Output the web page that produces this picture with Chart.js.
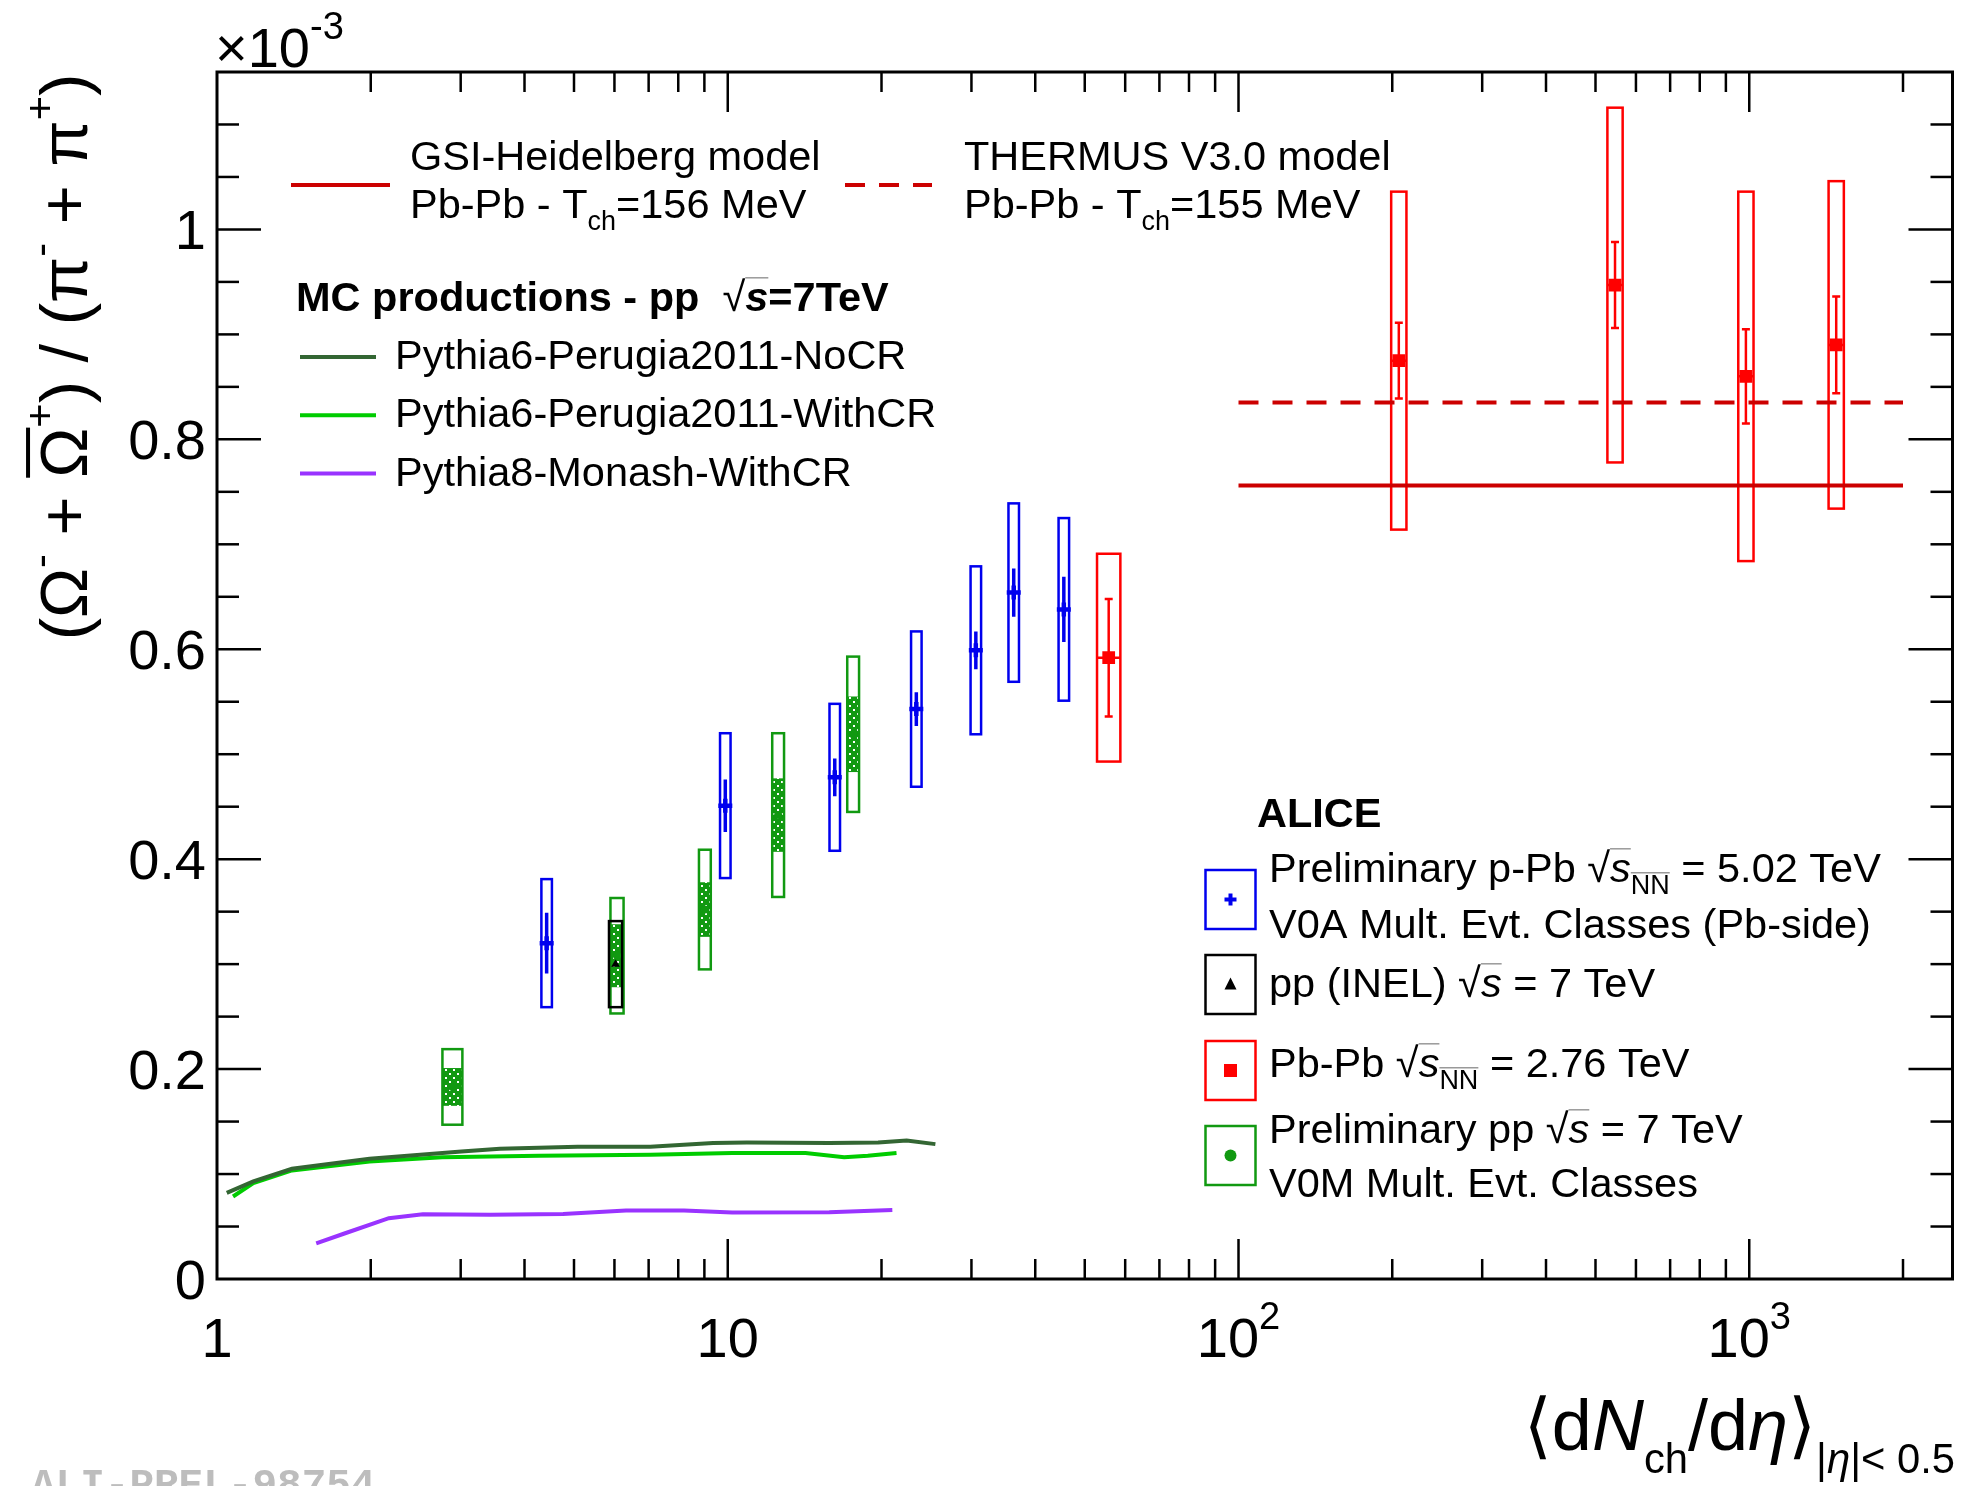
<!DOCTYPE html>
<html>
<head>
<meta charset="utf-8">
<title>Omega / pi vs dNch/deta</title>
<script src="https://cdn.jsdelivr.net/npm/chart.js@4.4.1/dist/chart.umd.min.js"></script>
<style>
  html, body { margin: 0; padding: 0; background: #fff; }
  canvas { display: block; }
</style>
</head>
<body>
<canvas id="omegaChart" width="1964" height="1486"></canvas>
<script>
// values are (Omega + anti-Omega)/(pi- + pi+) in units of 1e-3

// p-Pb 5.02 TeV, V0A classes
const pPbX    = [4.42, 9.89, 16.2, 23.4, 30.6, 36.3, 45.5];
const pPbY    = [0.320, 0.451, 0.478, 0.543, 0.599, 0.654, 0.638];
const pPbStat = [0.029, 0.025, 0.018, 0.016, 0.018, 0.023, 0.031];
const pPbSys  = [0.061, 0.069, 0.070, 0.074, 0.080, 0.085, 0.087];
const pPbXErr = [0.024, 0.024, 0.024, 0.024, 0.024, 0.024, 0.024]; // relative dN/deta unc.

// Pb-Pb 2.76 TeV
const pbPbX    = [55.7, 206, 546, 985, 1480];
const pbPbY    = [0.592, 0.875, 0.947, 0.860, 0.890];
const pbPbStat = [0.056, 0.036, 0.041, 0.045, 0.046];
const pbPbSys  = [0.099, 0.161, 0.169, 0.176, 0.156];
const pbPbXErr = [0.054, 0.035, 0.035, 0.035, 0.035];

// pp 7 TeV, V0M classes (preliminary)
const ppX     = [2.89, 6.07, 9.02, 12.55, 17.6];
const ppY     = [0.183, 0.308, 0.352, 0.442, 0.519];
const ppUncor = [0.018, 0.030, 0.026, 0.035, 0.036];
const ppSys   = [0.036, 0.055, 0.057, 0.078, 0.074];
const ppXErr  = [0.046, 0.030, 0.027, 0.027, 0.027];

// pp INEL 7 TeV
const inelX    = [6.03];
const inelY    = [0.300];
const inelSys  = [0.041];
const inelXErr = [0.030];

// MC, pp 7 TeV
const noCrX = [1.045, 1.178, 1.402, 1.989, 3.01, 3.58, 5.08, 7.05, 9.36, 10.9, 15.8, 19.7, 22.4, 25.5];
const noCrY = [0.082, 0.093, 0.105, 0.1145, 0.1215, 0.124, 0.126, 0.126, 0.1295, 0.130, 0.1295, 0.130, 0.132, 0.1285];
const withCrX = [1.075, 1.178, 1.402, 1.989, 2.76, 4.27, 7.05, 10.2, 14.2, 16.9, 18.8, 21.4];
const withCrY = [0.0786, 0.0913, 0.1034, 0.112, 0.1161, 0.1174, 0.1183, 0.120, 0.120, 0.1161, 0.1174, 0.120];
const monashX = [1.564, 1.782, 2.17, 2.53, 3.43, 4.76, 6.32, 8.21, 10.2, 15.8, 21.0];
const monashY = [0.034, 0.0436, 0.0579, 0.0617, 0.0611, 0.062, 0.0652, 0.0652, 0.0633, 0.0636, 0.0658];

// thermal models (Pb-Pb)
const modelX   = [100, 2000];
const gsiY     = 0.756;
const thermusY = 0.835;

// axes
const xTicks      = [1, 10, 100, 1000];
const xTickLabels = [[{t: '1'}], [{t: '10'}], [{t: '10'}, {t: '2', sup: 1}], [{t: '10'}, {t: '3', sup: 1}]];
const yTicks      = [0, 0.2, 0.4, 0.6, 0.8, 1.0];
const yTickLabels = ['0', '0.2', '0.4', '0.6', '0.8', '1'];

const FONT = "'Liberation Sans', Arial, Helvetica, 'DejaVu Sans', sans-serif";
const BLUE = '#0000ee', RED = '#ff0000', GREEN = '#119911', DKRED = '#cc0000';
const LEG = 41.5;

const pts = (xs, ys) => xs.map((x, i) => ({ x, y: ys[i] }));

// rich text: segments {t, sub, sup, it, b, bar}
function rich(ctx, segs, x, y, size, align, opt) {
  opt = opt || {};
  const subScale = opt.subScale || 0.65;
  const parts = segs.map(s => {
    const sz = (s.sub || s.sup) ? size * subScale : size;
    const font = (s.it ? 'italic ' : '') + (s.b ? 'bold ' : '') + sz + 'px ' + FONT;
    ctx.font = font;
    const dy = s.sub ? size * (opt.subDy || 0.3) : s.sup ? -size * (opt.supDy || 0.45) : 0;
    return { s, font, sz, dy, w: ctx.measureText(s.t).width };
  });
  const total = parts.reduce((acc, p) => acc + p.w, 0);
  let cx = align === 'right' ? x - total : align === 'center' ? x - total / 2 : x;
  ctx.textAlign = 'left';
  ctx.textBaseline = 'alphabetic';
  for (const p of parts) {
    ctx.font = p.font;
    ctx.fillText(p.s.t, cx, y + p.dy);
    if (p.s.bar) {
      ctx.save();
      ctx.strokeStyle = opt.barColor || '#999';
      ctx.lineWidth = opt.barWidth || 1.5;
      const by = y + p.dy - p.sz * (opt.barH || 0.8);
      ctx.beginPath(); ctx.moveTo(cx, by); ctx.lineTo(cx + p.w, by); ctx.stroke();
      ctx.restore();
    }
    cx += p.w;
  }
  return total;
}

function hatchPattern(ctx, color) {
  const c = document.createElement('canvas');
  c.width = 8; c.height = 8;
  const g = c.getContext('2d');
  g.fillStyle = color; g.fillRect(0, 0, 8, 8);
  g.fillStyle = '#ffffff';
  g.fillRect(1, 1, 2, 2); g.fillRect(5, 5, 2, 2);
  return ctx.createPattern(c, 'repeat');
}

// systematic boxes and stat bars, drawn under the markers
const errorBoxes = {
  id: 'errorBoxes',
  beforeDatasetsDraw(chart) {
    const { ctx, chartArea: a, scales: { x: xs, y: ys } } = chart;
    ctx.save();
    ctx.beginPath(); ctx.rect(a.left, a.top, a.right - a.left, a.bottom - a.top); ctx.clip();
    chart.data.datasets.forEach(ds => {
      const e = ds.errs;
      if (!e) return;
      ds.data.forEach((p, i) => {
        const x0 = xs.getPixelForValue(p.x / (1 + e.xRel[i]));
        const x1 = xs.getPixelForValue(p.x * (1 + e.xRel[i]));
        const xc = xs.getPixelForValue(p.x);
        const yc = ys.getPixelForValue(p.y);
        if (e.unc) {
          const yt = ys.getPixelForValue(p.y + e.unc[i]), yb = ys.getPixelForValue(p.y - e.unc[i]);
          ctx.fillStyle = hatchPattern(ctx, e.color);
          ctx.fillRect(x0, yt, x1 - x0, yb - yt);
        }
        if (e.sys) {
          const yt = ys.getPixelForValue(p.y + e.sys[i]), yb = ys.getPixelForValue(p.y - e.sys[i]);
          ctx.strokeStyle = e.color; ctx.lineWidth = 2.5;
          ctx.strokeRect(x0, yt, x1 - x0, yb - yt);
        }
        if (e.hbar) {
          ctx.strokeStyle = e.color; ctx.lineWidth = 2.5;
          ctx.beginPath(); ctx.moveTo(x0, yc); ctx.lineTo(x1, yc); ctx.stroke();
        }
        if (e.stat) {
          const yt = ys.getPixelForValue(p.y + e.stat[i]), yb = ys.getPixelForValue(p.y - e.stat[i]);
          ctx.strokeStyle = e.color; ctx.lineWidth = e.statWidth || 2.5;
          ctx.beginPath(); ctx.moveTo(xc, yt); ctx.lineTo(xc, yb);
          if (e.caps) {
            ctx.moveTo(xc - 4, yt); ctx.lineTo(xc + 4, yt);
            ctx.moveTo(xc - 4, yb); ctx.lineTo(xc + 4, yb);
          }
          ctx.stroke();
        }
      });
    });
    ctx.restore();
  }
};

// ROOT-like frame, ticks, labels and legends
const rootFrame = {
  id: 'rootFrame',
  afterDraw(chart) {
    const { ctx, chartArea: a, scales: { x: xs, y: ys } } = chart;
    const line = (x0, y0, x1, y1) => { ctx.beginPath(); ctx.moveTo(x0, y0); ctx.lineTo(x1, y1); ctx.stroke(); };
    ctx.save();
    ctx.strokeStyle = '#000';
    ctx.fillStyle = '#000';
    ctx.lineWidth = 2.5;

    // x ticks (log)
    for (let d = 1; d <= 1000; d *= 10) {
      for (let m = 1; m <= 9; m++) {
        const v = d * m;
        if (v <= xs.min || v >= xs.max) continue;
        const px = xs.getPixelForValue(v);
        const len = m === 1 ? 40 : 20;
        line(px, a.bottom, px, a.bottom - len);
        line(px, a.top, px, a.top + len);
      }
    }
    // y ticks
    for (let k = 1; k * 0.05 < ys.max - 1e-6; k++) {
      const py = ys.getPixelForValue(k * 0.05);
      const len = k % 4 === 0 ? 44 : 22;
      line(a.left, py, a.left + len, py);
      line(a.right, py, a.right - len, py);
    }
    ctx.lineWidth = 3;
    ctx.strokeRect(a.left, a.top, a.right - a.left, a.bottom - a.top);

    // tick labels
    ctx.font = '56px ' + FONT;
    ctx.textAlign = 'right';
    ctx.textBaseline = 'alphabetic';
    yTicks.forEach((v, i) => {
      ctx.fillText(yTickLabels[i], 206, ys.getPixelForValue(v) + 20);
    });
    xTicks.forEach((v, i) => {
      rich(ctx, xTickLabels[i], xs.getPixelForValue(v), 1357, 56, 'center', { subScale: 0.68, supDy: 0.5 });
    });

    // exponent
    rich(ctx, [{ t: '×10' }, { t: '-3', sup: 1 }], 215, 67, 56, 'left', { subScale: 0.68, supDy: 0.5 });

    // y title
    ctx.save();
    ctx.translate(87, 357);
    ctx.rotate(-Math.PI / 2);
    rich(ctx, [
      { t: '(Ω' }, { t: '-', sup: 1 }, { t: ' + ' }, { t: 'Ω', bar: 1 }, { t: '+', sup: 1 },
      { t: ') / (π' }, { t: '-', sup: 1 }, { t: ' + π' }, { t: '+', sup: 1 }, { t: ')' }
    ], 0, 0, 67, 'center', { subScale: 0.62, supDy: 0.5, barColor: '#000', barWidth: 4, barH: 0.88 });
    ctx.restore();

    // x title
    rich(ctx, [
      { t: '⟨d' }, { t: 'N', it: 1 }, { t: 'ch', sub: 1 }, { t: '/d' }, { t: 'η', it: 1 }, { t: '⟩' },
      { t: '|', sub: 1 }, { t: 'η', sub: 1, it: 1 }, { t: '|< 0.5', sub: 1 }
    ], 1955, 1450, 72, 'right', { subScale: 0.58, subDy: 0.32 });

    // watermark
    ctx.font = 'bold 41px "Liberation Mono", "DejaVu Sans Mono", monospace';
    ctx.fillStyle = '#bdbdbd';
    ctx.textAlign = 'left';
    ctx.fillText('ALI-PREL-98754', 31, 1497);
    ctx.fillStyle = '#000';

    // model legend
    ctx.lineWidth = 4;
    ctx.strokeStyle = DKRED;
    line(291, 185, 390, 185);
    ctx.setLineDash([20, 14]);
    line(845, 185, 932, 185);
    ctx.setLineDash([]);
    rich(ctx, [{ t: 'GSI-Heidelberg model' }], 410, 170, LEG, 'left');
    rich(ctx, [{ t: 'Pb-Pb - T' }, { t: 'ch', sub: 1 }, { t: '=156 MeV' }], 410, 218, LEG, 'left');
    rich(ctx, [{ t: 'THERMUS V3.0 model' }], 964, 170, LEG, 'left');
    rich(ctx, [{ t: 'Pb-Pb - T' }, { t: 'ch', sub: 1 }, { t: '=155 MeV' }], 964, 218, LEG, 'left');

    // MC legend
    rich(ctx, [{ t: 'MC productions - pp  ', b: 1 }, { t: '√' }, { t: 's', b: 1, it: 1, bar: 1 }, { t: '=7TeV', b: 1 }], 296, 311, LEG, 'left');
    const mc = [['#336633', 'Pythia6-Perugia2011-NoCR'], ['#00cc00', 'Pythia6-Perugia2011-WithCR'], ['#9933ff', 'Pythia8-Monash-WithCR']];
    mc.forEach(([c, label], i) => {
      const yy = 357 + i * 58.3;
      ctx.strokeStyle = c;
      line(300, yy, 376, yy);
      rich(ctx, [{ t: label }], 395, yy + 12, LEG, 'left');
    });

    // ALICE legend
    rich(ctx, [{ t: 'ALICE', b: 1 }], 1257, 827, LEG, 'left');
    const boxes = [
      { c: BLUE, y: 869, m: 'cross' },
      { c: '#000', y: 954, m: 'tri' },
      { c: RED, y: 1040, m: 'sq' },
      { c: GREEN, y: 1125, m: 'dot' }
    ];
    boxes.forEach(b => {
      ctx.strokeStyle = b.c; ctx.fillStyle = b.c; ctx.lineWidth = 2.5;
      ctx.strokeRect(1205.5, b.y + 1, 50, 59);
      const cx = 1230.5, cy = b.y + 30.5;
      if (b.m === 'cross') {
        ctx.lineWidth = 4;
        line(cx - 6, cy, cx + 6, cy); line(cx, cy - 6, cx, cy + 6);
      } else if (b.m === 'tri') {
        ctx.beginPath(); ctx.moveTo(cx, cy - 7); ctx.lineTo(cx + 6, cy + 5); ctx.lineTo(cx - 6, cy + 5); ctx.closePath(); ctx.fill();
      } else if (b.m === 'sq') {
        ctx.fillRect(cx - 6.5, cy - 6.5, 13, 13);
      } else {
        ctx.beginPath(); ctx.arc(cx, cy, 6, 0, Math.PI * 2); ctx.fill();
      }
    });
    ctx.fillStyle = '#000';
    const tx = 1269;
    rich(ctx, [{ t: 'Preliminary p-Pb ' }, { t: '√' }, { t: 's', it: 1, bar: 1 }, { t: 'NN', sub: 1, bar: 1 }, { t: ' = 5.02 TeV' }], tx, 882, LEG, 'left');
    rich(ctx, [{ t: 'V0A Mult. Evt. Classes (Pb-side)' }], tx, 938, LEG, 'left');
    rich(ctx, [{ t: 'pp (INEL) ' }, { t: '√' }, { t: 's', it: 1, bar: 1 }, { t: ' = 7 TeV' }], tx, 997, LEG, 'left');
    rich(ctx, [{ t: 'Pb-Pb ' }, { t: '√' }, { t: 's', it: 1, bar: 1 }, { t: 'NN', sub: 1, bar: 1 }, { t: ' = 2.76 TeV' }], tx, 1077, LEG, 'left');
    rich(ctx, [{ t: 'Preliminary pp ' }, { t: '√' }, { t: 's', it: 1, bar: 1 }, { t: ' = 7 TeV' }], tx, 1143, LEG, 'left');
    rich(ctx, [{ t: 'V0M Mult. Evt. Classes' }], tx, 1197, LEG, 'left');

    ctx.restore();
  }
};

const lineSet = (data, color, dash) => ({
  type: 'line', data, borderColor: color, borderWidth: 4, borderDash: dash || [],
  pointRadius: 0, fill: false, tension: 0
});

new Chart(document.getElementById('omegaChart'), {
  type: 'scatter',
  data: {
    datasets: [
      { data: pts(pbPbX, pbPbY), pointStyle: 'rect', pointRadius: 9, backgroundColor: RED, borderColor: RED, borderWidth: 0,
        errs: { color: RED, xRel: pbPbXErr, sys: pbPbSys, stat: pbPbStat, caps: true, hbar: true, statWidth: 2.5 } },
      { data: pts(pPbX, pPbY), pointStyle: 'cross', pointRadius: 7, borderColor: BLUE, borderWidth: 4.5,
        errs: { color: BLUE, xRel: pPbXErr, sys: pPbSys, stat: pPbStat, statWidth: 3.5 } },
      { data: pts(ppX, ppY), pointStyle: 'circle', pointRadius: 4, backgroundColor: GREEN, borderColor: GREEN, borderWidth: 0,
        errs: { color: GREEN, xRel: ppXErr, sys: ppSys, unc: ppUncor } },
      { data: pts(inelX, inelY), pointStyle: 'triangle', pointRadius: 5, backgroundColor: '#000', borderColor: '#000', borderWidth: 0,
        errs: { color: '#000', xRel: inelXErr, sys: inelSys } },
      lineSet(pts(modelX, [gsiY, gsiY]), DKRED),
      lineSet(pts(modelX, [thermusY, thermusY]), DKRED, [20, 14]),
      lineSet(pts(noCrX, noCrY), '#336633'),
      lineSet(pts(withCrX, withCrY), '#00cc00'),
      lineSet(pts(monashX, monashY), '#9933ff')
    ]
  },
  options: {
    responsive: false,
    animation: false,
    layout: { padding: { left: 217, right: 7, top: 72, bottom: 207 } },
    scales: {
      x: { type: 'logarithmic', min: 1, max: 2500, display: false },
      y: { type: 'linear', min: 0, max: 1.15, display: false }
    },
    plugins: { legend: { display: false }, tooltip: { enabled: false } }
  },
  plugins: [errorBoxes, rootFrame]
});
</script>
</body>
</html>
